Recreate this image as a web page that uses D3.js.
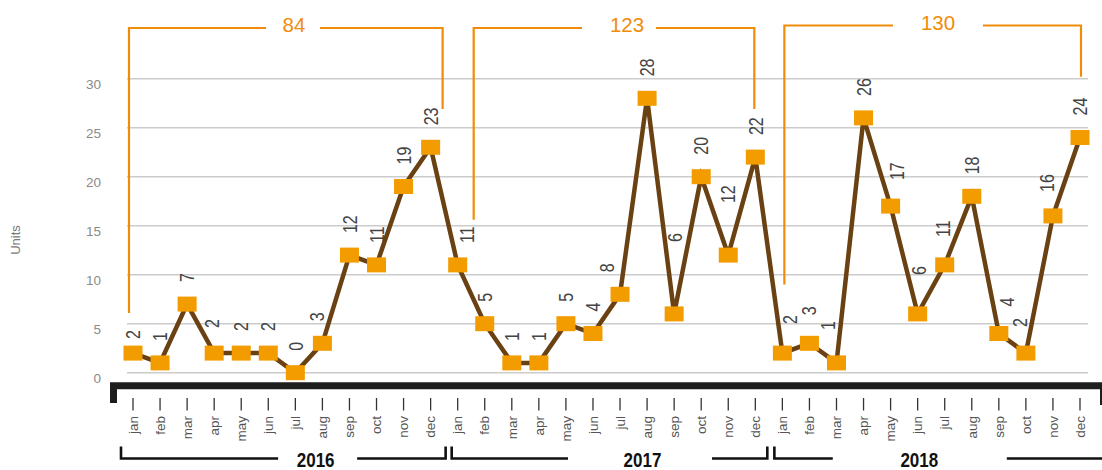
<!DOCTYPE html>
<html>
<head>
<meta charset="utf-8">
<script src="https://cdnjs.cloudflare.com/ajax/libs/d3/7.8.5/d3.min.js"></script>
<style>
    body { margin: 0; background: #fff; }
    svg { display: block; font-family: 'Liberation Sans', Arial, sans-serif; }
</style>
</head>
<body>
<div id="chart"></div>
<script>
'use strict';

var years = ['2016', '2017', '2018'];
var months = ['jan', 'feb', 'mar', 'apr', 'may', 'jun', 'jul', 'aug', 'sep', 'oct', 'nov', 'dec'];
var values2016 = [2, 1, 7, 2, 2, 2, 0, 3, 12, 11, 19, 23];
var values2017 = [11, 5, 1, 1, 5, 4, 8, 28, 6, 20, 12, 22];
var values2018 = [2, 3, 1, 26, 17, 6, 11, 18, 4, 2, 16, 24];
var yTicks = [0, 5, 10, 15, 20, 25, 30];
var yTitle = 'Units';

var width = 1102, height = 470;
var lineColor = '#6a4112', markerColor = '#f29c00', bracketColor = '#f08c0a';

// label nudges (px) where the default spot collides with the line
var labelNudge = {
    0: [0, 8], 3: [-2, -3], 7: [-6, 0], 12: [9, 0], 18: [-13, 0], 20: [1, -50], 22: [0, -30],
    24: [7, -7], 25: [-1, -6], 26: [-9, -11], 28: [6, -4], 29: [1, -17], 30: [-2, -6],
    32: [8, -5], 33: [-6, -4], 34: [-6, -2]
};
// orange total brackets: x offsets from jan/dec, where the legs stop (in units), top line y
var totalBrackets = [
    {dx0: -4, dx1: 12, end0: 6.1, end1: 26.9, top: 28, center: 294, gap0: 28, gap1: 26},
    {dx0: 16, dx1: -1, end0: 15.6, end1: 26.9, top: 28, center: 627, gap0: 45, gap1: 29},
    {dx0: 2, dx1: 1, end0: 9.0, end1: 30.2, top: 25.5, center: 938, gap0: 45, gap1: 45}
];
// black year brackets under the month labels
var yearBrackets = [
    {dx0: -12, dx1: 15, at: 6.75, gap0: 37.5, gap1: 41.5},
    {dx0: -6, dx1: 12, at: 6.83, gap0: 74.5, gap1: 69.5},
    {dx0: -8, dx1: 40, at: 5.06, gap0: 86.5, gap1: 87.5}
];

var series = [values2016, values2017, values2018];
var data = [];
series.forEach(function (vals, yi) {
    vals.forEach(function (v, mi) {
        data.push({year: years[yi], month: months[mi], value: v, index: yi * 12 + mi});
    });
});

var svg = d3.select('#chart').append('svg')
    .attr('width', width)
    .attr('height', height);

var x = d3.scalePoint()
    .domain(d3.range(data.length))
    .range([133, 1080]);

var y = d3.scaleLinear()
    .domain([0, 30])
    .range([372.7, 78.7]);

var step = x.step();

// grid + y labels
svg.append('g')
    .selectAll('line')
    .data(yTicks)
    .enter().append('line')
    .attr('x1', 127).attr('x2', 1088)
    .attr('y1', function (d) { return y(d); })
    .attr('y2', function (d) { return y(d); })
    .attr('stroke', '#cccccc')
    .attr('stroke-width', 1.5);

svg.append('g')
    .selectAll('text')
    .data(yTicks)
    .enter().append('text')
    .attr('x', 101)
    .attr('y', function (d) { return y(d) + 10; })
    .attr('text-anchor', 'end')
    .attr('fill', '#8a8a8a')
    .style('font-size', '13.5px')
    .text(function (d) { return d; });

svg.append('text')
    .attr('transform', 'translate(20,240) rotate(-90)')
    .attr('text-anchor', 'middle')
    .attr('fill', '#777')
    .style('font-size', '13px')
    .text(yTitle);

// orange annual totals
totalBrackets.forEach(function (b, yi) {
    var xa = x(yi * 12) + b.dx0, xb = x(yi * 12 + 11) + b.dx1;
    var total = d3.sum(series[yi]);
    svg.append('path')
        .attr('d', 'M' + xa + ',' + y(b.end0) + 'V' + b.top + 'H' + (b.center - b.gap0) +
            'M' + (b.center + b.gap1) + ',' + b.top + 'H' + xb + 'V' + y(b.end1))
        .attr('fill', 'none')
        .attr('stroke', bracketColor)
        .attr('stroke-width', 2.2);
    svg.append('text')
        .attr('x', b.center)
        .attr('y', b.top + 4)
        .attr('text-anchor', 'middle')
        .attr('fill', bracketColor)
        .style('font-size', '20.5px')
        .text(total);
});

// line + markers
var line = d3.line()
    .x(function (d) { return x(d.index); })
    .y(function (d) { return y(d.value); });

svg.append('path')
    .datum(data)
    .attr('d', line)
    .attr('fill', 'none')
    .attr('stroke', lineColor)
    .attr('stroke-width', 4.5)
    .attr('stroke-linejoin', 'miter');

svg.append('g')
    .selectAll('rect')
    .data(data)
    .enter().append('rect')
    .attr('x', function (d) { return x(d.index) - 9.5; })
    .attr('y', function (d) { return y(d.value) - 7.5; })
    .attr('width', 19)
    .attr('height', 15)
    .attr('fill', markerColor);

// value labels
svg.append('g')
    .selectAll('text')
    .data(data)
    .enter().append('text')
    .attr('transform', function (d) {
        var n = labelNudge[d.index] || [0, 0];
        return 'translate(' + (x(d.index) + n[0]) + ',' + (y(d.value) - 22 + n[1]) + ') rotate(-90) scale(0.8,1)';
    })
    .attr('dy', '0.36em')
    .attr('fill', '#444')
    .style('font-size', '20px')
    .text(function (d) { return d.value; });

// thick axis bar
svg.append('path')
    .attr('d', 'M113.5,403V385.8H1103.5V405')
    .attr('fill', 'none')
    .attr('stroke', '#1e1e1e')
    .attr('stroke-width', 7)
    .attr('stroke-linejoin', 'miter');

// month ticks + labels
var months_g = svg.append('g')
    .selectAll('g')
    .data(data)
    .enter().append('g')
    .attr('transform', function (d) { return 'translate(' + x(d.index) + ',0)'; });

months_g.append('line')
    .attr('y1', 398).attr('y2', 410.5)
    .attr('stroke', '#333')
    .attr('stroke-width', 1.3);

months_g.append('text')
    .attr('transform', 'translate(0,416) rotate(-90)')
    .attr('dy', '0.35em')
    .attr('text-anchor', 'end')
    .attr('fill', '#555')
    .style('font-size', '13.5px')
    .text(function (d) { return d.month; });

// year brackets
yearBrackets.forEach(function (b, yi) {
    var xa = x(yi * 12) + b.dx0, xb = x(yi * 12 + 11) + b.dx1;
    var tx = x(yi * 12) + b.at * step;
    svg.append('path')
        .attr('d', 'M' + xa + ',446.5V458.5H' + (tx - b.gap0) +
            'M' + (tx + b.gap1) + ',458.5H' + xb + 'V446.5')
        .attr('fill', 'none')
        .attr('stroke', '#111')
        .attr('stroke-width', 2.6);
    svg.append('text')
        .attr('transform', 'translate(' + tx + ',467) scale(0.85,1)')
        .attr('text-anchor', 'middle')
        .attr('fill', '#111')
        .style('font-size', '20px')
        .style('font-weight', 'bold')
        .text(years[yi]);
});
</script>
</body>
</html>
